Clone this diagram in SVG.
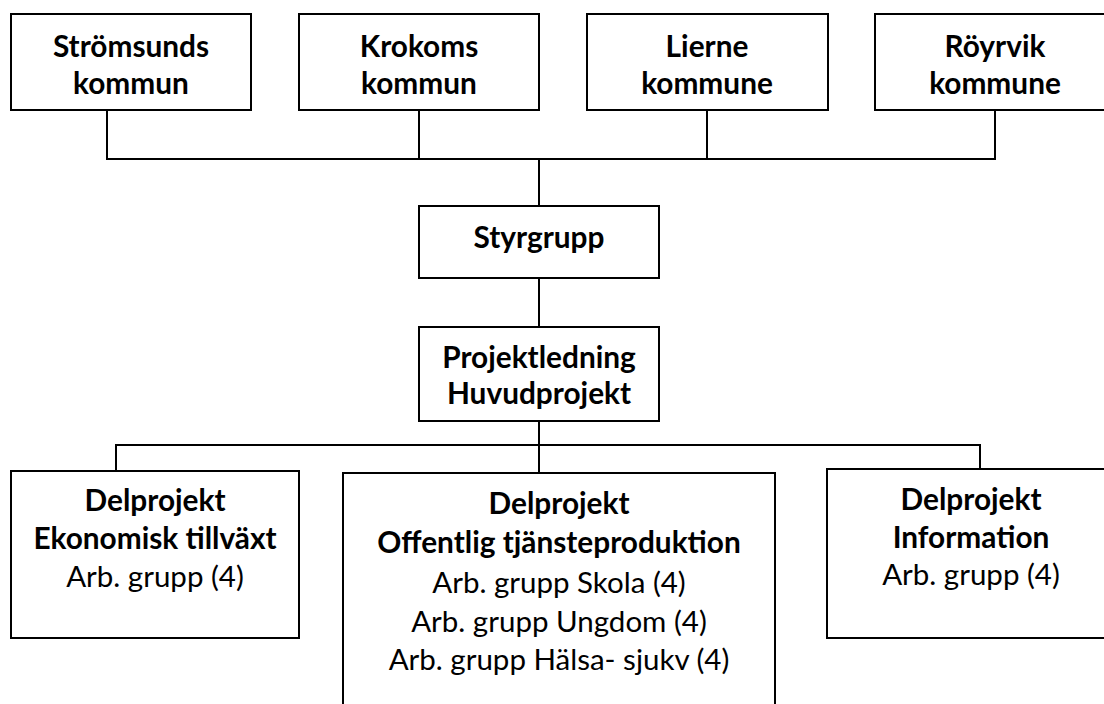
<svg xmlns="http://www.w3.org/2000/svg" width="1104" height="704" viewBox="0 0 1104 704">
<style>
.box{fill:#fff;stroke:#000;stroke-width:2}
.con{fill:none;stroke:#000;stroke-width:2}
text{font-family:Lato,"Open Sans","Liberation Sans",sans-serif;font-size:29.5px;text-anchor:middle;fill:#000}
.b{font-weight:bold;font-size:29.8px}
</style>
<rect width="1104" height="704" fill="#fff"/>
<g id="connectors">
<polyline class="con" points="107,110 107,159 995,159 995,110"/>
<line class="con" x1="419" y1="110" x2="419" y2="159"/>
<line class="con" x1="707" y1="110" x2="707" y2="159"/>
<line class="con" x1="539" y1="159" x2="539" y2="206"/>
<line class="con" x1="539" y1="278" x2="539" y2="327"/>
<line class="con" x1="539" y1="421" x2="539" y2="473"/>
<polyline class="con" points="116,471 116,445 980,445 980,469"/>
</g>
<g id="stromsund">
<rect class="box" x="11" y="14" width="240" height="96"/>
<text class="b" x="131" y="57">Strömsunds</text>
<text class="b" x="131" y="94">kommun</text>
</g>
<g id="krokom">
<rect class="box" x="299" y="14" width="240" height="96"/>
<text class="b" x="419" y="57">Krokoms</text>
<text class="b" x="419" y="94">kommun</text>
</g>
<g id="lierne">
<rect class="box" x="587" y="14" width="241" height="96"/>
<text class="b" x="707" y="57">Lierne</text>
<text class="b" x="707" y="94">kommune</text>
</g>
<g id="royrvik">
<rect class="box" x="875" y="14" width="240" height="96"/>
<text class="b" x="995" y="57">Röyrvik</text>
<text class="b" x="995" y="94">kommune</text>
</g>
<g id="styrgrupp">
<rect class="box" x="419" y="206" width="240" height="72"/>
<text class="b" x="539" y="248">Styrgrupp</text>
</g>
<g id="projektledning">
<rect class="box" x="419" y="327" width="240" height="94"/>
<text class="b" x="539" y="368">Projektledning</text>
<text class="b" x="539" y="404">Huvudprojekt</text>
</g>
<g id="ekonomisk">
<rect class="box" x="11" y="471" width="288" height="167"/>
<text class="b" x="155" y="511">Delprojekt</text>
<text class="b" x="155" y="549">Ekonomisk tillväxt</text>
<text x="155" y="587">Arb. grupp (4)</text>
</g>
<g id="offentlig">
<rect class="box" x="343" y="473" width="432" height="250"/>
<text class="b" x="559" y="514">Delprojekt</text>
<text class="b" x="559" y="553">Offentlig tjänsteproduktion</text>
<text x="559" y="593">Arb. grupp Skola (4)</text>
<text x="559" y="632">Arb. grupp Ungdom (4)</text>
<text x="559" y="670">Arb. grupp Hälsa- sjukv (4)</text>
</g>
<g id="information">
<rect class="box" x="827" y="469" width="288" height="169"/>
<text class="b" x="971" y="510">Delprojekt</text>
<text class="b" x="971" y="548">Information</text>
<text x="971" y="585">Arb. grupp (4)</text>
</g>
</svg>
